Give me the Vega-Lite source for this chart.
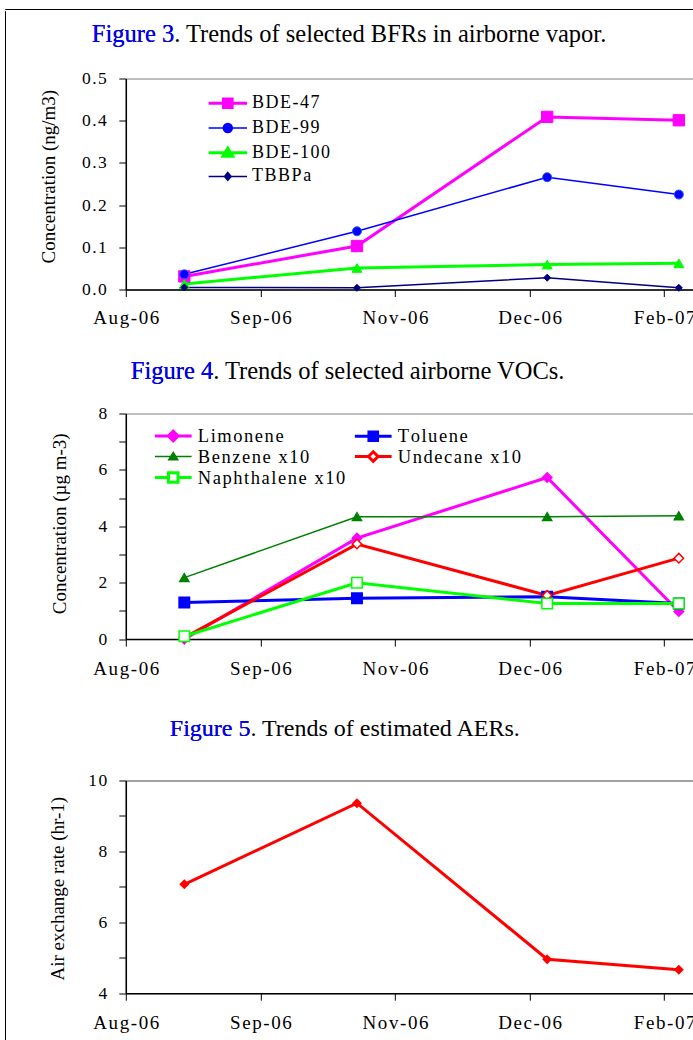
{
  "$schema": "https://vega.github.io/schema/vega-lite/v6.json",
  "background": "white",
  "padding": {"left": 4, "top": 8, "right": 0, "bottom": 0},
  "spacing": 0,
  "config": {
    "view": {"stroke": null},
    "font": "Liberation Serif",
    "axis": {"domainColor": "#000", "domainWidth": 1.5, "tickColor": "#000", "tickWidth": 1, "tickSize": 7, "labelFont": "Liberation Serif", "labelFontSize": 17.5, "labelColor": "#000", "titleFont": "Liberation Serif", "titleFontSize": 19, "titleFontWeight": "normal", "titleColor": "#000", "grid": false, "labelOverlap": false, "labelFlush": false, "labelBound": false},
    "legend": {"labelFont": "Liberation Serif", "labelColor": "#000", "labelFontSize": 18, "padding": 0, "symbolSize": 144, "symbolStrokeWidth": 1.5, "labelLimit": 400, "orient": "none"},
    "title": {"font": "Liberation Serif", "fontWeight": "normal", "color": "#000", "subtitleFont": "Liberation Serif", "subtitleColor": "#0000ff", "anchor": "start", "frame": "group"}
  },
  "vconcat": [
    {"width": 800, "height": 0.01, "view": {"stroke": "#000", "strokeWidth": 1}, "data": {"values": []}, "mark": "point", "encoding": {}},
    {
      "spacing": 32.8,
      "hconcat": [
        {"width": 0.01, "height": 1032, "view": {"stroke": "#000", "strokeWidth": 1}, "data": {"values": []}, "mark": "point", "encoding": {}},
        {
          "bounds": "flush",
          "spacing": 61.5,
          "resolve": {"scale": {"x": "independent", "y": "independent", "color": "independent", "fill": "independent", "stroke": "independent", "shape": "independent", "size": "independent", "strokeWidth": "independent"}, "legend": {"color": "independent"}},
          "vconcat": [
            {"width": 10, "height": 6, "data": {"values": []}, "mark": "point", "encoding": {}},
            {
              "width": 673, "height": 211,
              "view": {"stroke": "#808080", "strokeWidth": 1},
              "title": {"text": "Figure 3. Trends of selected BFRs in airborne vapor.", "subtitle": "Figure 3", "fontSize": 24.5, "subtitleFontSize": 24.5, "subtitlePadding": -24.5, "dx": -34, "offset": 22.2},
              "data": {"values": [
                {"date": "2006-08-30T00:00", "series": "BDE-47", "value": 0.031},
                {"date": "2006-10-28T00:00", "series": "BDE-47", "value": 0.103},
                {"date": "2007-01-01T00:00", "series": "BDE-47", "value": 0.409},
                {"date": "2007-02-15T00:00", "series": "BDE-47", "value": 0.401},
                {"date": "2006-08-30T00:00", "series": "BDE-99", "value": 0.036},
                {"date": "2006-10-28T00:00", "series": "BDE-99", "value": 0.138},
                {"date": "2007-01-01T00:00", "series": "BDE-99", "value": 0.266},
                {"date": "2007-02-15T00:00", "series": "BDE-99", "value": 0.225},
                {"date": "2006-08-30T00:00", "series": "BDE-100", "value": 0.013},
                {"date": "2006-10-28T00:00", "series": "BDE-100", "value": 0.051},
                {"date": "2007-01-01T00:00", "series": "BDE-100", "value": 0.059},
                {"date": "2007-02-15T00:00", "series": "BDE-100", "value": 0.062},
                {"date": "2006-08-30T00:00", "series": "TBBPa", "value": 0.005},
                {"date": "2006-10-28T00:00", "series": "TBBPa", "value": 0.004},
                {"date": "2007-01-01T00:00", "series": "TBBPa", "value": 0.028},
                {"date": "2007-02-15T00:00", "series": "TBBPa", "value": 0.004}
              ]},
              "encoding": {
                "x": {"field": "date", "type": "temporal",
                  "scale": {"domain": [{"year": 2006, "month": 8, "date": 10}, {"year": 2007, "month": 3, "date": 28}]},
                  "axis": {"values": [{"year": 2006, "month": 8, "date": 10}, {"year": 2006, "month": 9, "date": 25}, {"year": 2006, "month": 11, "date": 10}, {"year": 2006, "month": 12, "date": 26}, {"year": 2007, "month": 2, "date": 10}],
                    "format": "%b-%y", "labelExpr": "join(split(datum.label, ''), '\u200a')", "labelFontSize": 19, "labelPadding": 12.2, "title": null}},
                "y": {"field": "value", "type": "quantitative", "scale": {"domain": [0, 0.5], "nice": false},
                  "axis": {"values": [0, 0.1, 0.2, 0.3, 0.4, 0.5], "format": ".1f", "labelExpr": "join(split(datum.label, ''), '\u200a')", "labelPadding": 12.5,
                    "title": "Concentration (ng/m3)", "titleX": -71.2, "titleY": 97.6, "titleAngle": -90, "titleBaseline": "alphabetic", "titleAlign": "center"}}
              },
              "layer": [
                {"mark": {"type": "line"},
                 "encoding": {
                   "color": {"field": "series", "type": "nominal",
                     "scale": {"domain": ["BDE-47", "BDE-99", "BDE-100", "TBBPa"], "range": ["#ff00ff", "#0000ff", "#00ff00", "#000080"]},
                     "legend": {"title": null, "legendX": 93, "legendY": 15.8, "labelOffset": 15.3, "rowPadding": 4.7, "labelFontSize": 18, "symbolSize": 144,
                       "labelExpr": "join(split(datum.label, ''), '\u200a')",
                       "encode": {"symbols": {"update": {
                         "shape": [
                           {"test": "datum.value === 'BDE-47'", "value": "M-3.2,0H3.2M-0.72,-0.72H0.72V0.72H-0.72Z"},
                           {"test": "datum.value === 'BDE-99'", "value": "M-3.2,0H3.2M-0.75,0A0.75,0.75 0 1,0 0.75,0A0.75,0.75 0 1,0 -0.75,0Z"},
                           {"test": "datum.value === 'BDE-100'", "value": "M-3.2,0H3.2M0,-0.75L0.8,0.6H-0.8Z"},
                           {"value": "M-3.2,0H3.2M0,-0.65L0.55,0L0,0.65L-0.55,0Z"}
                         ],
                         "fill": [
                           {"test": "datum.value === 'BDE-47'", "value": "#ff00ff"},
                           {"test": "datum.value === 'BDE-99'", "value": "#0000ff"},
                           {"test": "datum.value === 'BDE-100'", "value": "#00ff00"},
                           {"value": "#000080"}
                         ],
                         "strokeWidth": [
                           {"test": "datum.value === 'BDE-47'", "value": 3},
                           {"test": "datum.value === 'BDE-100'", "value": 3},
                           {"value": 1.5}
                         ],
                         "opacity": {"value": 1}
                       }}}}},
                   "strokeWidth": {"field": "series", "type": "nominal", "scale": {"type": "ordinal", "domain": ["BDE-47", "BDE-99", "BDE-100", "TBBPa"], "range": [3, 1.5, 3, 1.5]}, "legend": null}
                 }},
                {"mark": {"type": "point", "filled": true, "opacity": 1, "strokeWidth": 1},
                 "encoding": {
                   "shape": {"field": "series", "type": "nominal", "scale": {"domain": ["BDE-100", "BDE-47", "BDE-99", "TBBPa"], "range": ["triangle-up", "square", "circle", "diamond"]}, "legend": null},
                   "size": {"field": "series", "type": "nominal", "scale": {"type": "ordinal", "domain": ["BDE-100", "BDE-47", "BDE-99", "TBBPa"], "range": [100, 128, 81, 49]}, "legend": null},
                   "fill": {"field": "series", "type": "nominal", "scale": {"domain": ["BDE-100", "BDE-47", "BDE-99", "TBBPa"], "range": ["#00ff00", "#ff00ff", "#0000ff", "#000080"]}, "legend": null},
                   "stroke": {"field": "series", "type": "nominal", "scale": {"domain": ["BDE-100", "BDE-47", "BDE-99", "TBBPa"], "range": ["#00ff00", "#ff00ff", "#2850ff", "#000080"]}, "legend": null}
                 }}
              ]
            },
            {"width": 10, "height": 1, "data": {"values": []}, "mark": "point", "encoding": {}},
            {
              "width": 673, "height": 225.6,
              "view": {"stroke": "#808080", "strokeWidth": 1},
              "title": {"text": "Figure 4.  Trends of selected airborne VOCs.", "subtitle": "Figure 4", "fontSize": 24.5, "subtitleFontSize": 24.5, "subtitlePadding": -24.5, "dx": 5, "offset": 20.3},
              "data": {"values": [
                {"date": "2006-08-30T00:00", "series": "Limonene", "value": 0.0},
                {"date": "2006-10-28T00:00", "series": "Limonene", "value": 3.58},
                {"date": "2007-01-01T00:00", "series": "Limonene", "value": 5.73},
                {"date": "2007-02-15T00:00", "series": "Limonene", "value": 0.98},
                {"date": "2006-08-30T00:00", "series": "Toluene", "value": 1.30},
                {"date": "2006-10-28T00:00", "series": "Toluene", "value": 1.45},
                {"date": "2007-01-01T00:00", "series": "Toluene", "value": 1.50},
                {"date": "2007-02-15T00:00", "series": "Toluene", "value": 1.26},
                {"date": "2006-08-30T00:00", "series": "Benzene x10", "value": 2.18},
                {"date": "2006-10-28T00:00", "series": "Benzene x10", "value": 4.34},
                {"date": "2007-01-01T00:00", "series": "Benzene x10", "value": 4.34},
                {"date": "2007-02-15T00:00", "series": "Benzene x10", "value": 4.37},
                {"date": "2006-08-30T00:00", "series": "Undecane x10", "value": 0.05},
                {"date": "2006-10-28T00:00", "series": "Undecane x10", "value": 3.37},
                {"date": "2007-01-01T00:00", "series": "Undecane x10", "value": 1.55},
                {"date": "2007-02-15T00:00", "series": "Undecane x10", "value": 2.87},
                {"date": "2006-08-30T00:00", "series": "Naphthalene x10", "value": 0.10},
                {"date": "2006-10-28T00:00", "series": "Naphthalene x10", "value": 2.00},
                {"date": "2007-01-01T00:00", "series": "Naphthalene x10", "value": 1.26},
                {"date": "2007-02-15T00:00", "series": "Naphthalene x10", "value": 1.26}
              ]},
              "encoding": {
                "x": {"field": "date", "type": "temporal",
                  "scale": {"domain": [{"year": 2006, "month": 8, "date": 10}, {"year": 2007, "month": 3, "date": 28}]},
                  "axis": {"values": [{"year": 2006, "month": 8, "date": 10}, {"year": 2006, "month": 9, "date": 25}, {"year": 2006, "month": 11, "date": 10}, {"year": 2006, "month": 12, "date": 26}, {"year": 2007, "month": 2, "date": 10}],
                    "format": "%b-%y", "labelExpr": "join(split(datum.label, ''), '\u200a')", "labelFontSize": 19, "labelPadding": 13.5, "title": null}},
                "y": {"field": "value", "type": "quantitative", "scale": {"domain": [0, 8], "nice": false},
                  "axis": {"values": [0, 1, 2, 3, 4, 5, 6, 7, 8], "format": "d", "labelExpr": "datum.value % 2 === 0 ? join(split(datum.label, ''), '\u200a') : ''", "labelPadding": 12,
                    "title": "Concentration (µg m-3)", "titleX": -60.2, "titleY": 109.8, "titleAngle": -90, "titleBaseline": "alphabetic", "titleAlign": "center"}}
              },
              "layer": [
                {"mark": {"type": "line"},
                 "encoding": {
                   "color": {"field": "series", "type": "nominal",
                     "scale": {"domain": ["Limonene", "Benzene x10", "Naphthalene x10", "Toluene", "Undecane x10"], "range": ["#ff00ff", "#008000", "#00ff00", "#0000ff", "#ff0000"]},
                     "legend": {"title": null, "legendX": 38.2, "legendY": 12.8, "columns": 2, "columnPadding": 2, "labelOffset": 15.3, "rowPadding": -4, "labelFontSize": 18.5, "symbolSize": 144,
                       "labelExpr": "join(split(replace(datum.label, ' ', '\u00a0'), ''), '\u200a')",
                       "encode": {"symbols": {"update": {
                         "shape": [
                           {"test": "datum.value === 'Limonene'", "value": "M-3.06,0H3.06M0,-0.8L0.8,0L0,0.8L-0.8,0Z"},
                           {"test": "datum.value === 'Toluene'", "value": "M-3.06,0H3.06M-0.72,-0.72H0.72V0.72H-0.72Z"},
                           {"test": "datum.value === 'Benzene x10'", "value": "M-3.06,0H3.06M0,-0.7L0.75,0.55H-0.75Z"},
                           {"test": "datum.value === 'Undecane x10'", "value": "M-3.06,0H-0.8M0.8,0H3.06M0,-0.8L0.8,0L0,0.8L-0.8,0Z"},
                           {"value": "M-3.06,0H-0.8M0.8,0H3.06M-0.8,-0.8H0.8V0.8H-0.8Z"}
                         ],
                         "fill": [
                           {"test": "datum.value === 'Limonene'", "value": "#ff00ff"},
                           {"test": "datum.value === 'Toluene'", "value": "#0000ff"},
                           {"test": "datum.value === 'Benzene x10'", "value": "#008000"},
                           {"value": "#ffffff"}
                         ],
                         "strokeWidth": [
                           {"test": "datum.value === 'Benzene x10'", "value": 1.5},
                           {"test": "datum.value === 'Undecane x10'", "value": 2.5},
                           {"test": "datum.value === 'Naphthalene x10'", "value": 2.5},
                           {"value": 3}
                         ],
                         "opacity": {"value": 1}
                       }}}}},
                   "strokeWidth": {"field": "series", "type": "nominal", "scale": {"type": "ordinal", "domain": ["Limonene", "Benzene x10", "Naphthalene x10", "Toluene", "Undecane x10"], "range": [3, 1.5, 3, 3, 3]}, "legend": null}
                 }},
                {"mark": {"type": "point", "filled": true, "opacity": 1, "strokeWidth": 1.5},
                 "encoding": {
                   "shape": {"field": "series", "type": "nominal", "scale": {"domain": ["Benzene x10", "Limonene", "Naphthalene x10", "Toluene", "Undecane x10"], "range": ["triangle-up", "diamond", "square", "square", "diamond"]}, "legend": null},
                   "size": {"field": "series", "type": "nominal", "scale": {"type": "ordinal", "domain": ["Benzene x10", "Limonene", "Naphthalene x10", "Toluene", "Undecane x10"], "range": [81, 90, 110, 110, 90]}, "legend": null},
                   "fill": {"field": "series", "type": "nominal", "scale": {"domain": ["Benzene x10", "Limonene", "Naphthalene x10", "Toluene", "Undecane x10"], "range": ["#008000", "#ff00ff", "#ffffff", "#0000ff", "#ffffff"]}, "legend": null},
                   "stroke": {"field": "series", "type": "nominal", "scale": {"domain": ["Benzene x10", "Limonene", "Naphthalene x10", "Toluene", "Undecane x10"], "range": ["#008000", "#ff00ff", "#00ff00", "#0000ff", "#ff0000"]}, "legend": null}
                 }}
              ]
            },
            {"width": 10, "height": 18, "data": {"values": []}, "mark": "point", "encoding": {}},
            {
              "width": 673, "height": 212.7,
              "view": {"stroke": "#444444", "strokeWidth": 1},
              "title": {"text": "Figure 5.  Trends of estimated AERs.", "subtitle": "Figure 5", "fontSize": 24, "subtitleFontSize": 24, "subtitlePadding": -24, "dx": 44, "offset": 30.9},
              "data": {"values": [
                {"date": "2006-08-30T00:00", "value": 7.07},
                {"date": "2006-10-28T00:00", "value": 9.36},
                {"date": "2007-01-01T00:00", "value": 4.96},
                {"date": "2007-02-15T00:00", "value": 4.66}
              ]},
              "encoding": {
                "x": {"field": "date", "type": "temporal",
                  "scale": {"domain": [{"year": 2006, "month": 8, "date": 10}, {"year": 2007, "month": 3, "date": 28}]},
                  "axis": {"values": [{"year": 2006, "month": 8, "date": 10}, {"year": 2006, "month": 9, "date": 25}, {"year": 2006, "month": 11, "date": 10}, {"year": 2006, "month": 12, "date": 26}, {"year": 2007, "month": 2, "date": 10}],
                    "format": "%b-%y", "labelExpr": "join(split(datum.label, ''), '\u200a')", "labelFontSize": 19, "labelPadding": 13.5, "title": null}},
                "y": {"field": "value", "type": "quantitative", "scale": {"domain": [4, 10], "nice": false},
                  "axis": {"values": [4, 5, 6, 7, 8, 9, 10], "format": "d", "labelExpr": "datum.value % 2 === 0 ? join(split(datum.label, ''), '\u200a') : ''", "labelPadding": 12,
                    "title": "Air exchange rate (hr-1)", "titleX": -62.6, "titleY": 107.7, "titleAngle": -90, "titleBaseline": "alphabetic", "titleAlign": "center"}}
              },
              "layer": [
                {"mark": {"type": "line", "color": "#ff0000", "strokeWidth": 3}, "encoding": {}},
                {"mark": {"type": "point", "shape": "diamond", "filled": true, "color": "#ff0000", "size": 100, "opacity": 1}, "encoding": {}}
              ]
            }
          ]
        }
      ]
    }
  ]
}
